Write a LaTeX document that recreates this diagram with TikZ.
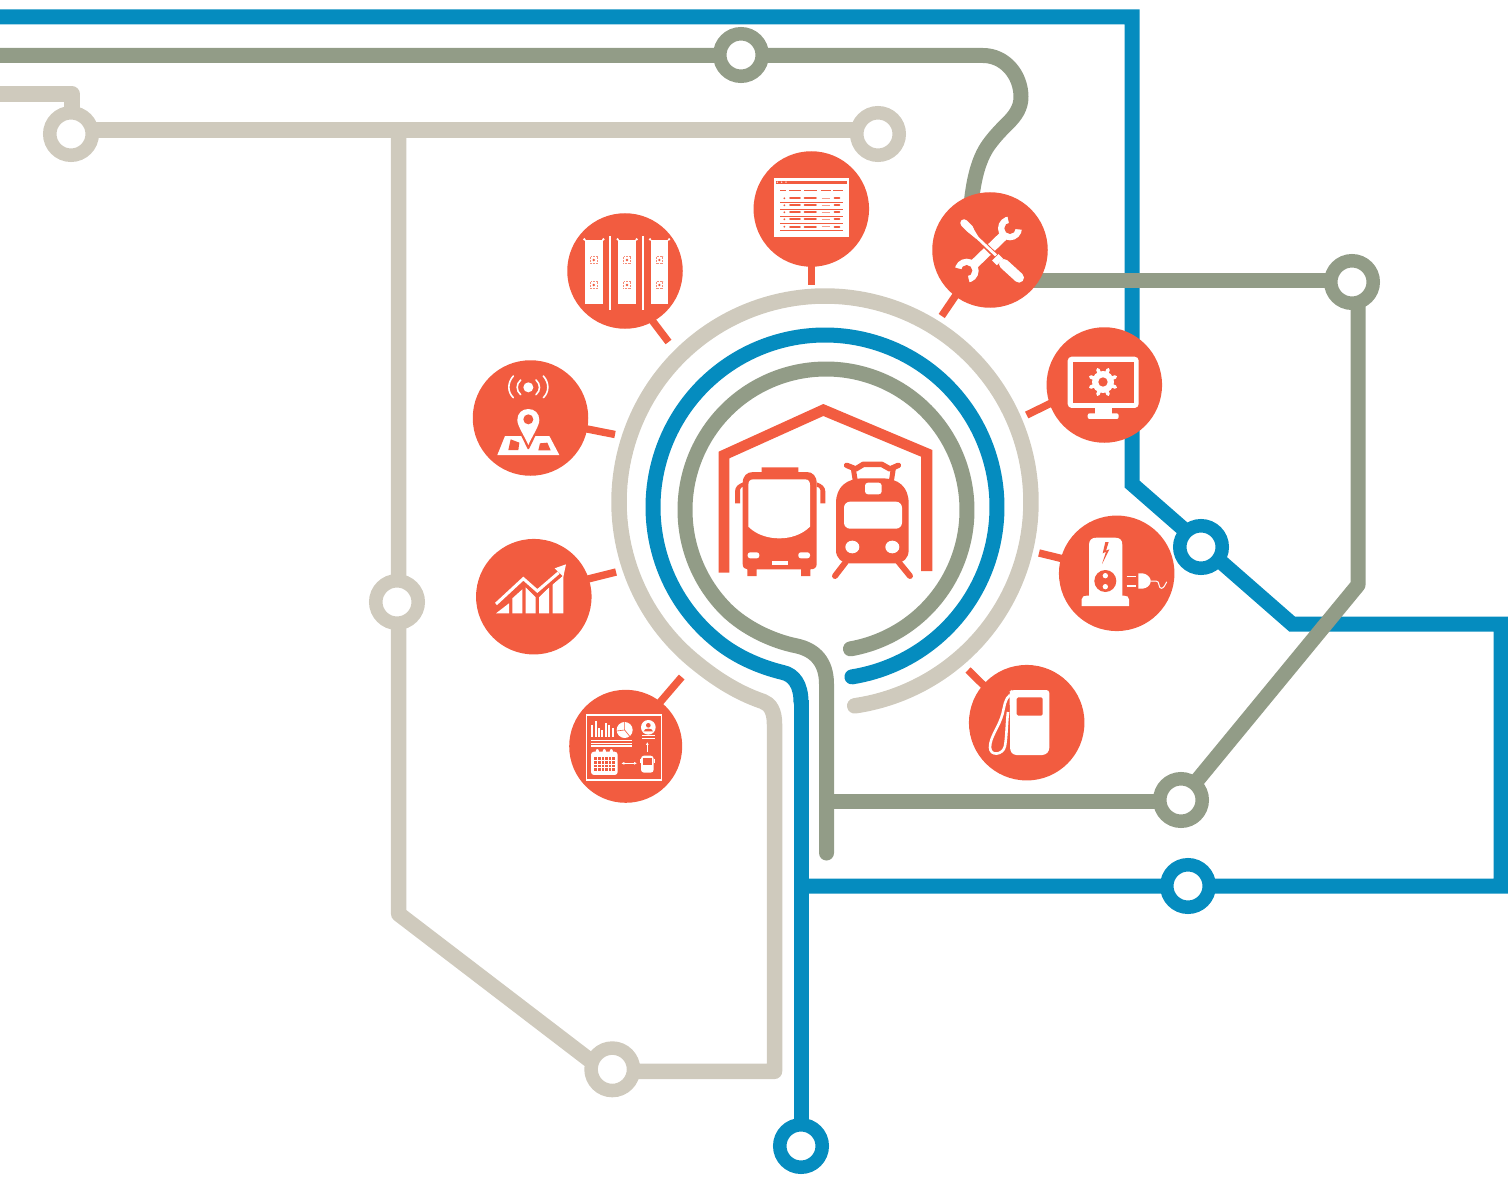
\documentclass[tikz,border=0pt]{standalone}
\usetikzlibrary{arrows.meta}
\definecolor{hub}{HTML}{F25C40}
\definecolor{bl}{HTML}{058CBF}
\definecolor{gr}{HTML}{929C87}
\definecolor{be}{HTML}{CFCABD}
\tikzset{
 x=1pt,y=-1pt,
 blueline/.style={draw=bl,line width=15pt,miter limit=10},
 greenline/.style={draw=gr,line width=15pt,line join=round},
 beigeline/.style={draw=be,line width=15.5pt,line join=round},
 station/.style={circle,draw=#1,fill=white,line width=13.5pt,minimum size=42.5pt,inner sep=0pt},
 hubnode/.style={circle,fill=hub,minimum size=#1,inner sep=0pt},
 hubnode/.default=115.5pt,
 stub/.style={draw=hub,line width=7.4pt,shorten <=-3pt},
 wl/.style={draw=white,line cap=round,line join=round},
 z/.style={shift={(#1)},scale=1/3},
}
\begin{document}
\begin{tikzpicture}
\useasboundingbox (0,0) rectangle (1508,1177);
\path
 (741,55) coordinate (sA) (71,134) coordinate (sB) (878,134) coordinate (sC)
 (397,602) coordinate (sD) (612.3,1069.3) coordinate (sE) (801,1146) coordinate (sF)
 (1188,886) coordinate (sG) (1201,547) coordinate (sH) (1181,800) coordinate (sI)
 (1352,282) coordinate (sJ)
 (0,17) coordinate (bStart) (0,55.5) coordinate (gStart) (0,94) coordinate (cStart);
% beige
\draw[beigeline] (cStart) -- (72,94) -- (72,120);
\draw[beigeline] (sB |- 0,130) -- (sC |- 0,130);
\draw[beigeline] (398.7,130) -- (398.7,914) -- (600,1068);
\draw[beigeline,line cap=round]
  plot[domain=81.7:-230,samples=160] ({825+206*cos(\x)},{502+206*sin(\x)})
  .. controls (712,676) and (735,692) .. (763,701.5) .. controls (770,704) and (774.5,711) .. (774.5,724) -- (774.5,1071.3) -- (sE |- 0,1071.3);
% blue
\draw[blueline] (bStart) -- (1132,17) -- (1132,484) -- (1292,624) -- (1501,624) -- (1501,886) -- (801,886);
\draw[blueline,line cap=round] 
  plot[domain=81:-230,samples=160] ({825+172*cos(\x)},{507+172*sin(\x)})
  .. controls (732,654) and (756,666) .. (783,672.5) .. controls (794,675) and (801,685) .. (801,702);
\draw[blueline] (801,700) -- (sF);
% green
\draw[greenline] (gStart) -- (983,55.5) .. controls (1005,55.5) and (1021,75) .. (1021,97)
  .. controls (1021,108) and (1015,116) .. (1008,123) .. controls (1002,129) and (996,135) .. (990,143)
  .. controls (980,156) and (974,175) .. (971,205);
\draw[greenline] (1000,281) -- (sJ |- 0,281);
\draw[greenline] (1358,282) -- (1358,585) -- (sI);
\draw[greenline] (826.5,801) -- (sI |- 0,801);
\draw[greenline,line cap=round]
  plot[domain=80:-225,samples=160] ({826+141*cos(\x)},{510+141*sin(\x)})
  .. controls (745,628) and (772,641) .. (797,646) .. controls (815,650) and (826.5,662) .. (826.5,684) -- (826.5,853);
% station rings
\node[station=gr] (stA) at (sA) {};
\node[station=be] (stB) at (sB) {};
\node[station=be] (stC) at (sC) {};
\node[station=be] (stD) at (sD) {};
\node[station=be] (stE) at (sE) {};
\node[station=bl] (stF) at (sF) {};
\node[station=bl] (stG) at (sG) {};
\node[station=bl] (stH) at (sH) {};
\node[station=gr] (stI) at (sI) {};
\node[station=gr] (stJ) at (sJ) {};
% hubs
\node[hubnode] (table) at (811.3,209) {};
\node[hubnode] (racks) at (625,271) {};
\node[hubnode] (map) at (530.5,418) {};
\node[hubnode] (chart) at (533.8,596.7) {};
\node[hubnode=113pt] (dash) at (625.7,746.3) {};
\node[hubnode] (fuel) at (1026.7,722.7) {};
\node[hubnode] (charger) at (1116.7,573.3) {};
\node[hubnode] (monitor) at (1104.3,385) {};
\node[hubnode] (tools) at (990,250) {};
% stubs
\path (811.3,285) coordinate (e1) (668.5,342) coordinate (e2) (615,434.5) coordinate (e3)
 (616,572) coordinate (e4) (681.7,677) coordinate (e5) (968,670) coordinate (e6)
 (1039,553) coordinate (e7) (1026.7,415) coordinate (e8) (941.7,316) coordinate (e9);
\draw[stub] (table.south) -- (e1);
\draw[stub] (racks.-61) -- (e2);
\draw[stub] (map.-11) -- (e3);
\draw[stub] (chart.18) -- (e4);
\draw[stub] (dash.52) -- (e5);
\draw[stub] (fuel.139) -- (e6);
\draw[stub] (charger.165) -- (e7);
\draw[stub] (monitor.199) -- (e8);
\draw[stub] (tools.233) -- (e9);
% --- garage, bus, tram
\begin{scope}[z={690,390}]
\fill[hub] (86,185) -- (400,42) -- (727,180) -- (727,543) -- (693,543) -- (693,200) -- (400,78) -- (118,205) -- (118,548) -- (86,548) -- cycle;
% bus
\fill[hub] (215,246) -- (215,232) -- (325,232) -- (325,246) -- (350,246) .. controls (368,246) and (380,258) .. (380,280)
 -- (380,522) .. controls (380,532) and (374,538) .. (361,538) -- (361,558) -- (333,558) -- (333,538) -- (200,538) -- (200,558) -- (172,558) -- (172,538)
 .. controls (164,538) and (158,532) .. (158,522) -- (158,280) .. controls (158,258) and (170,246) .. (190,246) -- cycle;
\fill[white] (190,268) -- (345,268) .. controls (355,268) and (360,274) .. (360,285) -- (360,410) .. controls (335,435) and (300,445) .. (268,445) .. controls (235,445) and (200,435) .. (175,410) -- (175,285) .. controls (175,274) and (180,268) .. (190,268) -- cycle;
\fill[hub] (160,277) .. controls (145,282) and (135,290) .. (135,305) -- (135,340) -- (150,340) -- (150,300) .. controls (150,294) and (155,292) .. (160,290) -- cycle;
\fill[hub] (380,277) .. controls (395,282) and (406,290) .. (406,305) -- (406,340) -- (391,340) -- (391,300) .. controls (391,294) and (386,292) .. (380,290) -- cycle;
\fill[white,rounded corners=2.5pt] (173,487) rectangle (208,505);
\fill[white,rounded corners=2.5pt] (325,487) rectangle (360,505);
\fill[white] (245,512) rectangle (293,524);
% tram
\draw[hub,line width=5.5pt,line cap=round,line join=round] (470,226) -- (497,237) -- (520,223) -- (575,223) -- (600,237) -- (625,226);
\draw[hub,line width=5pt] (490,236) -- (497,280);
\draw[hub,line width=5pt] (610,236) -- (603,280);
\fill[hub] (438,340) .. controls (438,290) and (470,265) .. (520,265) -- (575,265) .. controls (625,265) and (656,290) .. (656,340) -- (656,480) .. controls (656,505) and (640,520) .. (615,520) -- (480,520) .. controls (455,520) and (438,505) .. (438,480) -- cycle;
\fill[white,rounded corners=6pt] (462,335) rectangle (636,416);
\fill[white,rounded corners=3pt] (525,278) rectangle (575,313);
\fill[white] (487,471) ellipse [x radius=21,y radius=19];
\fill[white] (607,471) ellipse [x radius=21,y radius=19];
\draw[hub,line width=6pt,line cap=round] (468,515) -- (435,558);
\draw[hub,line width=6pt,line cap=round] (625,515) -- (660,558);
\end{scope}
% --- racks
\begin{scope}[z={550,140}]
\foreach \a/\c in {105/131,205/231,302/328}{
 \fill[white] (\a,300) rectangle ({\a+53},493);
 \draw[white,line width=.8pt] ({\a-2},298) -- ({\a+8},308) ({\a+55},298) -- ({\a+45},308);
 \fill[white] ({\a-2},298) circle (4) ({\a+55},298) circle (4);
 \foreach \y in {360,435}{
  \draw[hub!70,line width=.5pt,densely dotted] (\c-10,\y-10) rectangle (\c+10,\y+10);
  \fill[hub] (\c,\y) circle (4);
 }
}
\draw[white,line width=1.2pt] (180,288) -- (180,510);
\draw[white,line width=1.2pt] (279,288) -- (279,510);
\end{scope}
% --- table
\begin{scope}[z={550,140}]
\fill[white] (673,115) rectangle (898,290);
\fill[hub] (678,122) rectangle (892,131);
\foreach \x in {682,695,708} \fill[white] (\x,126.5) circle (2.2);
\foreach \a/\b in {690/708,718/752,762/800,812/842,850/880} \draw[hub,line width=.8pt] (\a,152) -- (\b,152);
\foreach \y in {175,196,217,238,260}{
 \fill[hub] (703,\y) circle (3);
 \draw[hub,line width=1.9pt,line cap=round] (720,\y) -- (750,\y) (764,\y) -- (798,\y) (854,\y) -- (868,\y);
 \draw[hub!60,line width=1.3pt] (815,\y) -- (840,\y);
}
\foreach \y in {186,207,229,250,272} \draw[hub,line width=.8pt] (690,\y) -- (880,\y);
\end{scope}
% --- map, chart, dashboard
\begin{scope}[z={460,350}]
% map
\fill[white] (205,112) circle (15);
\draw[wl,line width=1.6pt] (182,90) .. controls (168,102) and (168,122) .. (182,134);
\draw[wl,line width=1.6pt] (228,90) .. controls (242,102) and (242,122) .. (228,134);
\draw[wl,line width=1.6pt] (160,78) .. controls (142,98) and (142,126) .. (160,143);
\draw[wl,line width=1.6pt] (250,78) .. controls (268,98) and (268,126) .. (250,143);
\fill[white] (135,258) -- (268,258) -- (298,315) -- (112,315) -- cycle;
\fill[hub] (152,268) -- (178,278) -- (175,300) -- (145,300) -- cycle;
\fill[hub] (240,280) -- (262,278) -- (272,301) -- (235,301) -- cycle;
\fill[hub] (168,225) -- (242,225) -- (207,297) -- (203,297) -- cycle;
\fill[white] (172,210) .. controls (172,190) and (186,177) .. (205,177) .. controls (224,177) and (238,190) .. (238,210) .. controls (238,228) and (218,255) .. (205,285) .. controls (192,255) and (172,228) .. (172,210) -- cycle;
\fill[hub] (205,208) circle (15);
% chart
\fill[white] (108,790) -- (147,760) -- (147,790) -- cycle;
\fill[white] (157,790) -- (157,745) -- (187,718) -- (187,790) -- cycle;
\fill[white] (197,790) -- (197,712) -- (227,742) -- (227,790) -- cycle;
\fill[white] (237,790) -- (237,742) -- (267,712) -- (267,790) -- cycle;
\fill[white] (278,790) -- (278,703) -- (310,676) -- (310,790) -- cycle;
\draw[hub,line width=6pt] (105,770) -- (190,693) -- (232,730) -- (300,672);
\draw[white,line width=3pt] (108,762) -- (190,686) -- (232,723) -- (296,668);
\fill[white] (284,655) -- (318,643) -- (310,680) -- cycle;
% dashboard
\draw[white,line width=1.6pt] (380,1095) rectangle (605,1290);
\foreach \x/\h in {397/35,407/48,417/25,427/20,437/40,447/35,458/25} \draw[white,line width=1.8pt] (\x,1160) -- (\x,{1160-\h});
\fill[white] (494,1140) circle (24);
\draw[hub,line width=.6pt] (494,1140) -- (494,1116) (494,1140) -- (470,1143) (494,1140) -- (510,1160);
\foreach \y in {1171,1180,1188} \draw[white,line width=1.1pt] (393,\y) -- (516,\y);
\fill[white] (565,1132) circle (22);
\fill[hub] (565,1126) circle (7);
\fill[hub] (551,1144) .. controls (553,1133) and (577,1133) .. (579,1144) -- cycle;
\foreach \y in {1155,1164} \draw[white,line width=.8pt] (546,\y) -- (585,\y);
\draw[white,line width=1pt,-{Latex[length=3pt,width=3pt]}] (562,1206) -- (562,1176);
\draw[white,line width=1pt,{Latex[length=3pt,width=3pt]}-{Latex[length=3pt,width=3pt]}] (484,1240) -- (531,1240);
\fill[white,rounded corners=3pt] (393,1205) rectangle (473,1275);
\foreach \x in {412,433,454} \fill[white] (\x,1205) ellipse [x radius=5,y radius=8];
\fill[hub] (402,1222) rectangle (465,1263);
\foreach \x in {412,423,434,445,455} \draw[white,line width=.6pt] (\x,1222) -- (\x,1263);
\foreach \y in {1232,1242,1252} \draw[white,line width=.6pt] (402,\y) -- (465,\y);
\fill[white,rounded corners=3pt] (543,1217) rectangle (581,1268);
\fill[hub] (549,1224) rectangle (575,1246);
\draw[white,line width=1pt] (540,1226) -- (540,1238) (584,1226) -- (584,1238);
\end{scope}
% --- tools, monitor
\begin{scope}[z={920,180}]
% wrench
\draw[white,line width=9.5pt] (160,255) -- (250,168);
\fill[white] (270,145) circle (36);
\fill[white] (140,272) circle (36);
\fill[hub] (270,145) circle (17);
\fill[hub] (140,272) circle (17);
\fill[hub] (270,145) -- (262,105) -- (310,105) -- (312,150) -- cycle;
\fill[hub] (140,272) -- (102,262) -- (100,315) -- (150,315) -- cycle;
% screwdriver
\draw[hub,line width=5.5pt] (170,172) -- (226,226);
\draw[hub,line width=13pt] (222,224) -- (250,250);
\draw[white,line width=2.8pt] (160,162) -- (228,226);
\draw[white,line width=7.5pt,line cap=round] (132,129) -- (150,147);
\fill[white] (142,155) -- (157,140) -- (175,170) -- (168,176) -- cycle;
\draw[white,line width=9pt] (226,232) -- (240,246);
\draw[white,line width=10pt,line cap=round] (252,252) -- (297,293);
% monitor
\fill[white,rounded corners=4pt] (443,530) rectangle (656,684);
\fill[hub] (458,546) rectangle (641,668);
\fill[white] (525,684) rectangle (575,702);
\fill[white,rounded corners=2pt] (503,700) rectangle (596,717);
\fill[white] (549,606) circle (33);
\foreach \a in {0,45,...,315}
 \draw[white,line width=3.6pt,line cap=round] (549,606) -- ({549+40*cos(\a+22.5)},{606+40*sin(\a+22.5)});
\fill[hub] (549,606) circle (14);
\end{scope}
% --- charger, fuel
\begin{scope}[z={960,510}]
\fill[white] (387,262) -- (387,105) .. controls (387,90) and (395,83) .. (410,83) -- (465,83) .. controls (480,83) and (487,90) .. (487,105) -- (487,262) -- cycle;
\fill[white] (365,288) -- (365,268) .. controls (365,260) and (372,257) .. (380,257) -- (492,257) .. controls (500,257) and (507,260) .. (507,268) -- (507,288) -- cycle;
\fill[hub] (436,96) -- (428,130) -- (438,125) -- (426,162) -- (448,118) -- (438,122) -- (446,96) -- cycle;
\fill[hub] (436,213) circle (33);
\fill[white] (436,197) circle (8);
\fill[white] (436,230) circle (8);
\draw[white,line width=1.2pt] (500,199) -- (528,199) (500,228) -- (528,228);
\fill[white] (535,190) -- (548,190) .. controls (562,192) and (570,202) .. (572,210) -- (572,216) .. controls (570,226) and (562,234) .. (548,236) -- (535,236) -- cycle;
\draw[white,line width=1pt,line cap=round] (572,213) -- (588,213) .. controls (600,212) and (594,235) .. (604,235) .. controls (610,235) and (616,225) .. (620,216);
% fuel
\fill[white,rounded corners=3pt] (155,540) -- (268,540) -- (268,722) -- (256,735) -- (160,735) -- (150,722) -- (150,610) -- (148,545) -- cycle;
\fill[hub,rounded corners=1.5pt] (170,562) rectangle (248,617);
\draw[white,line width=2.6pt,line join=round] (150,555) .. controls (135,565) and (133,590) .. (128,610) .. controls (118,650) and (90,680) .. (90,712) .. controls (90,740) and (130,735) .. (135,708) .. controls (140,680) and (140,640) .. (144,606);
\end{scope}
\end{tikzpicture}
\end{document}
